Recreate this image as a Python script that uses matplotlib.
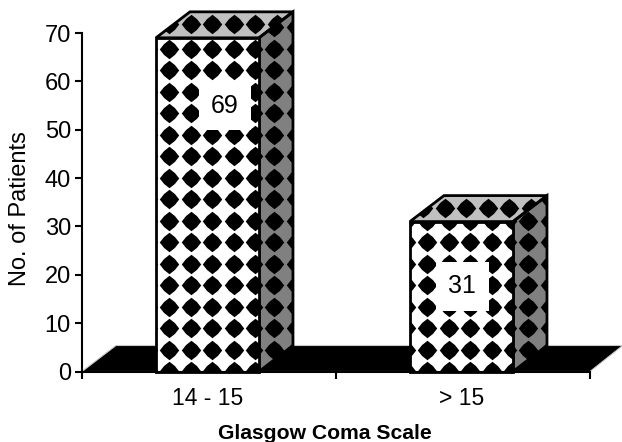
import numpy as np
import matplotlib
matplotlib.use("Agg")
import matplotlib.pyplot as plt
from matplotlib.patches import Polygon
from matplotlib.path import Path

plt.rcParams['font.family'] = ['Liberation Sans', 'DejaVu Sans']

# Datos del grafico
categorias = ['14 - 15', '> 15']
pacientes = [69, 31]
ticks_y = [0, 10, 20, 30, 40, 50, 60, 70]
etiqueta_x = [0.563, 1.497]
etiqueta_y = [55, 17.6]

# Tamano de la figura y de los ejes en pixeles
ANCHO, ALTO = 622, 442
X0, X1, Y0, Y70 = 82, 590, 371.5, 33
ux = (X1 - X0) / 2            # pixeles por categoria
uy = (Y0 - Y70) / 70          # pixeles por paciente

ancho_barra = 103 / ux
prof_x = 34 / ux
prof_y = 26 / uy
paso_x = 21.5 / ux
paso_y = 21.5 / uy

# Rombo algo abombado, como la trama original
rombo = Path([(1, 0), (0.56, 0.56), (0, 1), (-0.56, 0.56), (-1, 0), (-0.56, -0.56), (0, -1), (0.56, -0.56), (1, 0)],
             closed=True)

fig = plt.figure(figsize=(ANCHO / 100, ALTO / 100), dpi=100)
ax = fig.add_axes([X0 / ANCHO, 1 - Y0 / ALTO, (X1 - X0) / ANCHO, (Y0 - Y70) / ALTO])
ax.set_xlim(0, 2)
ax.set_ylim(0, 70)


# Dibuja una cara de la barra con su trama de rombos
def cara(puntos, color, fase_x, fase_y, zorder):
    pol = Polygon(puntos, closed=True, facecolor=color, edgecolor='none', zorder=zorder, clip_on=False)
    ax.add_patch(pol)
    xs = np.arange(fase_x - paso_x, 2.3, paso_x)
    ys = np.arange(fase_y - 3 * paso_y, 78, paso_y)
    xx, yy = np.meshgrid(xs, ys)
    lin, = ax.plot(xx.ravel(), yy.ravel(), ls='none', marker=rombo, ms=14.0, mfc='black', mec='none',
                   zorder=zorder + 0.1, clip_on=True)
    lin.set_clip_path(pol)
    borde = Polygon(puntos, closed=True, fill=False, edgecolor='black', lw=2, zorder=zorder + 0.2,
                    clip_on=False, joinstyle='miter')
    ax.add_patch(borde)


# Piso negro detras de las barras
piso = Polygon([(0, 0), (prof_x, prof_y), (2 + prof_x - 0.005, prof_y), (2, 0)], closed=True,
               facecolor='black', edgecolor='#c8c8c8', lw=0.8, zorder=1, clip_on=False)
ax.add_patch(piso)

for i, (cat, val) in enumerate(zip(categorias, pacientes)):
    izq = i + 0.494 - ancho_barra / 2
    der = izq + ancho_barra
    # cara lateral
    cara([(der, 0), (der + prof_x, prof_y), (der + prof_x, val + prof_y), (der, val)],
         '#808080', der + 15.5 / ux, 0.1, 3)
    # cara superior
    cara([(izq, val), (izq + prof_x, val + prof_y), (der + prof_x, val + prof_y), (der, val)],
         '#c0c0c0', izq + 35 / ux, val + 2.8, 3)
    # cara frontal
    cara([(izq, 0), (izq, val), (der, val), (der, 0)], 'white', 0.3437, 0.1, 4)
    ax.text(etiqueta_x[i], etiqueta_y[i], str(val), ha='center', va='center', fontsize=18, zorder=6,
            bbox=dict(facecolor='white', edgecolor='none', boxstyle='square,pad=0.5'))

# Ejes
ax.spines['top'].set_visible(False)
ax.spines['right'].set_visible(False)
ax.spines['left'].set_linewidth(1.5)
ax.spines['bottom'].set_linewidth(1.5)
ax.spines['left'].set_zorder(7)
ax.spines['bottom'].set_zorder(7)
ax.set_yticks(ticks_y)
ax.tick_params(axis='y', labelsize=17, length=5, width=1.5, pad=3)
ax.set_xticks([0.494, 1.494], categorias)
ax.tick_params(axis='x', which='major', labelsize=16.5, length=0, pad=11)
ax.set_xticks([0, 1, 2], minor=True)
ax.tick_params(axis='x', which='minor', length=5, width=1.5)
ax.set_ylabel('No. of Patients', fontsize=17)
ax.yaxis.set_label_coords(-0.10, 0.482)
ax.set_xlabel('Glasgow Coma Scale', fontsize=15.2, fontweight='bold')
ax.xaxis.set_label_coords(0.478, -0.155)

fig.savefig('out.png', dpi=100)
